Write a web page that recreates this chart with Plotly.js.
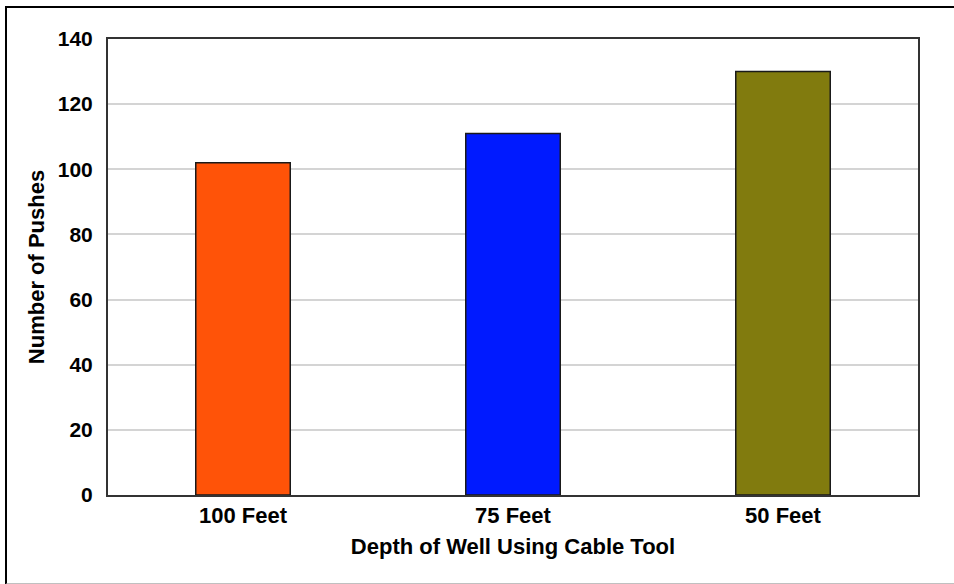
<!DOCTYPE html>
<html>
<head>
<meta charset="utf-8">
<script src="https://cdn.plot.ly/plotly-3.0.1.min.js"></script>
<style>
  html, body { margin: 0; padding: 0; background: #fff; }
  #wrap { position: relative; width: 954px; height: 584px; overflow: hidden; }
  #chart { width: 954px; height: 584px; }
  #frame { position: absolute; left: 5px; top: 6px; width: 960px; height: 575px;
           border-left: 2px solid #000; border-top: 2px solid #000; border-bottom: 2px solid #c0c0c0;
           pointer-events: none; }
</style>
</head>
<body>
<div id="wrap">
  <div id="chart"></div>
  <div id="frame"></div>
</div>
<script>
const categories = ["100 Feet", "75 Feet", "50 Feet"];
const pushes = [102, 111, 130];
const barColors = ["#FF5308", "#001AFF", "#817B0E"];
const yTicks = [0, 20, 40, 60, 80, 100, 120, 140];
const xTitle = "Depth of Well Using Cable Tool";
const yTitle = "Number of Pushes";

const fam = "Liberation Sans, Arial, sans-serif";
const tickFontX = { family: fam, size: 22, color: "#000", weight: "bold" };
const tickFontY = { family: fam, size: 21, color: "#000", weight: "bold" };
const titleFont = { family: fam, size: 22, color: "#000", weight: "bold" };

const trace = {
  type: "bar",
  x: categories,
  y: pushes,
  marker: { color: barColors, line: { color: "#1a1a1a", width: 1.5 } },
  hoverinfo: "x+y"
};

const layout = {
  width: 954,
  height: 584,
  margin: { l: 108, r: 36, t: 39, b: 89, pad: 0 },
  paper_bgcolor: "#fff",
  plot_bgcolor: "#fff",
  showlegend: false,
  bargap: 0.65,
  font: titleFont,
  xaxis: {
    type: "category",
    showline: true, linecolor: "#333", linewidth: 2, mirror: true,
    showgrid: false, ticks: "", ticklabelstandoff: 0,
    tickfont: tickFontX,
    title: { text: xTitle, font: titleFont, standoff: 11 }
  },
  yaxis: {
    range: [0, 140],
    tickvals: yTicks,
    ticktext: yTicks.map(String),
    showline: true, linecolor: "#333", linewidth: 2, mirror: true,
    showgrid: true, gridcolor: "#d4d4d4", gridwidth: 2,
    zeroline: false, ticks: "", ticklabelstandoff: 9,
    tickfont: tickFontY,
    title: { text: yTitle, font: titleFont, standoff: 7 }
  }
};

Plotly.newPlot("chart", [trace], layout, { displayModeBar: false, staticPlot: true });
</script>
</body>
</html>
